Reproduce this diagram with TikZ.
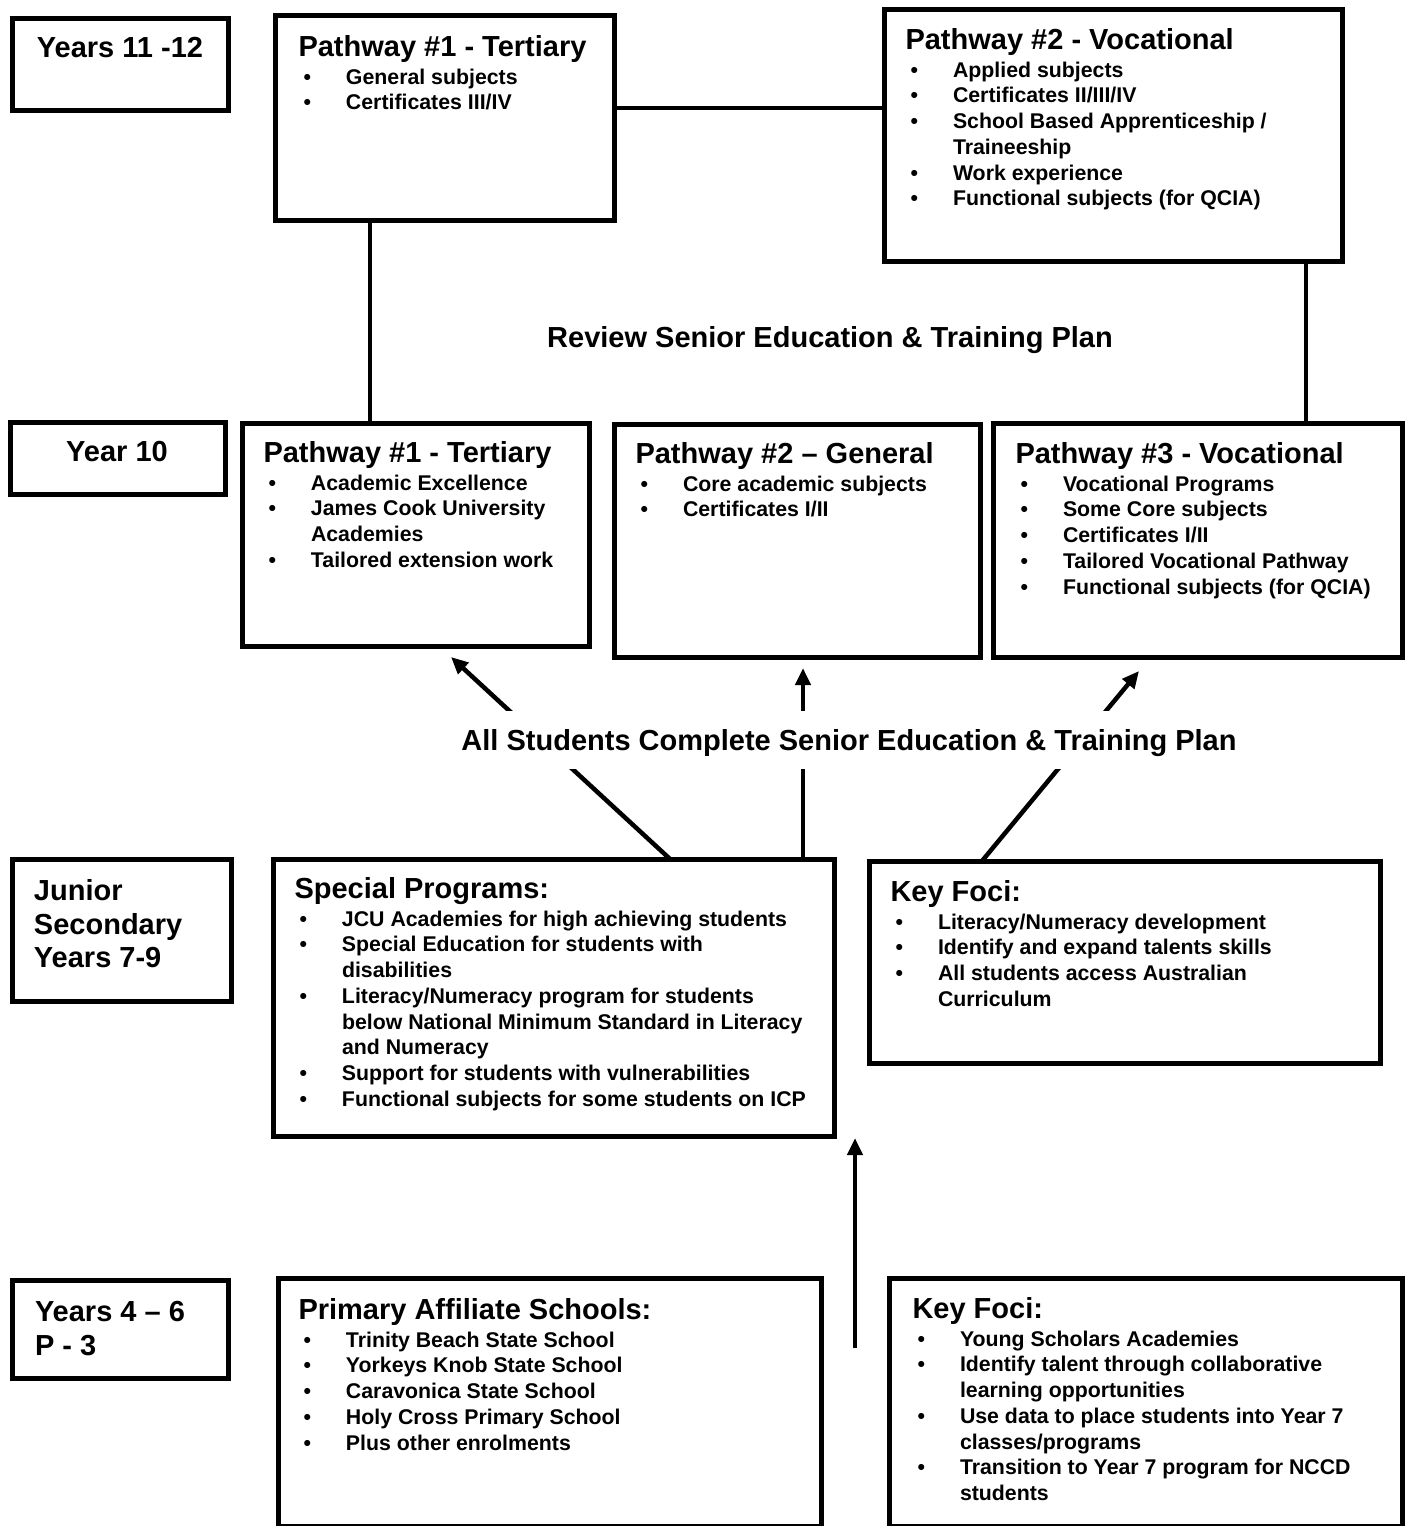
\documentclass[tikz,border=0pt]{standalone}
\usepackage{fontspec}
\setmainfont{Liberation Sans}
\usetikzlibrary{arrows.meta}
\newcommand\blk[1]{\vtop{\hsize=700pt\parindent=0pt\parskip=0pt\bfseries #1}}
\newcommand\ttl[1]{\fontsize{29}{33.5}\selectfont\noindent #1\par\vspace{2pt}}
\newcommand\itm[1]{\fontsize{21.3}{25.7}\selectfont\hangindent=47.5pt\hangafter=1\noindent\makebox[47.5pt][l]{\hspace{5pt}\textbullet}#1\par}
\newcommand\lbl[1]{\fontsize{29}{33.5}\selectfont\noindent #1\par}
\begin{document}
\begin{tikzpicture}[x=1pt,y=-1pt,
  box/.style={draw, line width=5pt, inner sep=0pt, outer sep=0pt, anchor=north west},
  conn/.style={line width=4.5pt},
  arr/.style={line width=4.5pt, -{Triangle[length=17pt,width=15pt]}},
  txt/.style={anchor=base west, inner sep=0pt, outer sep=0pt},
  ctr/.style={anchor=base, inner sep=0pt, font=\bfseries\fontsize{29}{33.5}\selectfont}]
\useasboundingbox (0,0) rectangle (1411,1526);
\clip (0,0) rectangle (1411,1526);

% boxes
\node[box, minimum width=216, minimum height=92]  (y1112) at (12,18) {};
\node[box, minimum width=339, minimum height=205] (p1t) at (275,15) {};
\node[box, minimum width=458, minimum height=252] (p2t) at (884,9) {};
\node[box, minimum width=215, minimum height=72]  (y10) at (10,422) {};
\node[box, minimum width=347, minimum height=223] (p1y) at (242,423) {};
\node[box, minimum width=366, minimum height=233] (p2y) at (614,424) {};
\node[box, minimum width=409, minimum height=234] (p3y) at (993,423) {};
\node[box, minimum width=219, minimum height=142] (jun) at (12,859) {};
\node[box, minimum width=561, minimum height=277] (spec) at (273,859) {};
\node[box, minimum width=511, minimum height=202] (kf1) at (869,861) {};
\node[box, minimum width=216, minimum height=98]  (y46) at (12,1280) {};
\node[box, minimum width=543, minimum height=248] (prim) at (278,1278) {};
\node[box, minimum width=513, minimum height=248] (kf2) at (889,1278) {};

% connectors
\draw[conn] ([xshift=-74.5pt]p1t.south) -- ([xshift=-74.5pt]p1t.south |- p1y.north);
\draw[conn] ([yshift=9.5pt]p1t.east) -- ([yshift=9.5pt]p1t.east -| p2t.west);
\draw[conn] ([xshift=193pt]p2t.south) -- ([xshift=193pt]p2t.south |- p3y.north);

\draw[arr] ([xshift=116.5pt]spec.north) -- ([shift={(35.5pt,-11pt)}]p1y.south);
\draw[arr] ([xshift=249.5pt]spec.north) -- ([shift={(6pt,-11pt)}]p2y.south);
\draw[arr] ([xshift=-142.5pt]kf1.north) -- ([shift={(-58.5pt,-14pt)}]p3y.south);

\coordinate (vb) at (855,1348);
\coordinate (vt) at (855,1138);
\draw[arr] (vb) -- (vt);

% labels
\node[ctr] (ly1112) at (120,57) {Years 11 -12};
\node[ctr] (ly10) at (117,461.5) {Year 10};
\node[txt] (ljun) at (34,900.5) {\blk{\lbl{Junior}\lbl{Secondary}\lbl{Years 7-9}}};
\node[txt] (ly46) at (35,1321.5) {\blk{\lbl{Years 4 – 6}\lbl{P - 3}}};

\node[ctr] (rev) at (830,347.5) {Review Senior Education \& Training Plan};
\node[ctr, fill=white, inner xsep=4pt, text height=39.5pt, text depth=18.5pt] (allst) at (849,750.5)
  {All Students Complete Senior Education \& Training Plan};

% box texts
\node[txt] (tp1t) at (298.5,56.5) {\blk{\ttl{Pathway \#1 - Tertiary}%
  \itm{General subjects}\itm{Certificates III/IV}}};
\node[txt] (tp2t) at (905.5,49.5) {\blk{\ttl{Pathway \#2 - Vocational}%
  \itm{Applied subjects}\itm{Certificates II/III/IV}%
  \itm{School Based Apprenticeship /\newline Traineeship}%
  \itm{Work experience}\itm{Functional subjects (for QCIA)}}};
\node[txt] (tp1y) at (263.5,462.5) {\blk{\ttl{Pathway \#1 - Tertiary}%
  \itm{Academic Excellence}\itm{James Cook University\newline Academies}%
  \itm{Tailored extension work}}};
\node[txt] (tp2y) at (635.5,463.5) {\blk{\ttl{Pathway \#2 – General}%
  \itm{Core academic subjects}\itm{Certificates I/II}}};
\node[txt] (tp3y) at (1015.5,463.5) {\blk{\ttl{Pathway \#3 - Vocational}%
  \itm{Vocational Programs}\itm{Some Core subjects}\itm{Certificates I/II}%
  \itm{Tailored Vocational Pathway}\itm{Functional subjects (for QCIA)}}};
\node[txt] (tspec) at (294.5,898.5) {\blk{\ttl{Special Programs:}%
  \itm{JCU Academies for high achieving students}%
  \itm{Special Education for students with\newline disabilities}%
  \itm{Literacy/Numeracy program for students\newline below National Minimum Standard in Literacy\newline and Numeracy}%
  \itm{Support for students with vulnerabilities}%
  \itm{Functional subjects for some students on ICP}}};
\node[txt] (tkf1) at (890.5,901.5) {\blk{\ttl{Key Foci:}%
  \itm{Literacy/Numeracy development}\itm{Identify and expand talents skills}%
  \itm{All students access Australian\newline Curriculum}}};
\node[txt] (tprim) at (298.5,1319.5) {\blk{\ttl{Primary Affiliate Schools:}%
  \itm{Trinity Beach State School}\itm{Yorkeys Knob State School}%
  \itm{Caravonica State School}\itm{Holy Cross Primary School}%
  \itm{Plus other enrolments}}};
\node[txt] (tkf2) at (912.5,1318.5) {\blk{\ttl{Key Foci:}%
  \itm{Young Scholars Academies}%
  \itm{Identify talent through collaborative\newline learning opportunities}%
  \itm{Use data to place students into Year 7\newline classes/programs}%
  \itm{Transition to Year 7 program for NCCD\newline students}}};
\end{tikzpicture}
\end{document}
